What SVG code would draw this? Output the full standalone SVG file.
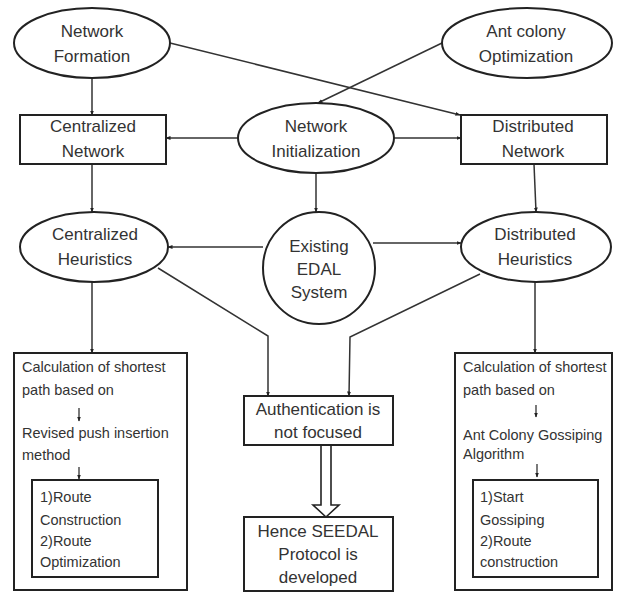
<svg xmlns="http://www.w3.org/2000/svg" width="617" height="592" viewBox="0 0 617 592">
<defs>
<style>
.shape{fill:#fff;stroke:#222;stroke-width:2}
.lbl{font-family:"Liberation Sans",Arial,sans-serif;font-size:17px;fill:#333;text-anchor:middle}
.sm{font-family:"Liberation Sans",Arial,sans-serif;font-size:14.5px;fill:#333}
.con{fill:none;stroke:#333;stroke-width:1.5;marker-end:url(#ah)}
.small{fill:none;stroke:#333;stroke-width:1.3;marker-end:url(#ah)}
</style>
<marker id="ah" viewBox="0 0 10 10" refX="9" refY="5" markerWidth="5" markerHeight="5" orient="auto" markerUnits="userSpaceOnUse">
<path d="M0,1 L10,5 L0,9 z" fill="#222"/>
</marker>
</defs>
<rect width="617" height="592" fill="#fff"/>
<g id="connectors">
<path class="con" d="M92,78 L92,115"/>
<path class="con" d="M170,43 L460,115"/>
<path class="con" d="M442,43 L318,103"/>
<path class="con" d="M238,138 L166,138"/>
<path class="con" d="M394,138 L461,138"/>
<path class="con" d="M316,173 L316,212"/>
<path class="con" d="M92,164 L92,212"/>
<path class="con" d="M534,164 L536,212"/>
<path class="con" d="M263,247 L168,247"/>
<path class="con" d="M373,243 L461,243"/>
<path class="con" d="M158,268 L268,336 L268,396"/>
<path class="con" d="M480,274 L350,337 L349,396"/>
<path class="con" d="M92,282 L92,353"/>
<path class="con" d="M535,282 L535,353"/>
<path d="M321,445 L321,505 L313,505 L326,517 L339,505 L331,505 L331,445" fill="#fff" stroke="#222" stroke-width="1.6"/>
</g>
<g id="network-formation">
<ellipse class="shape" cx="92" cy="43" rx="78" ry="35"/>
<text class="lbl" x="92" y="37">Network</text>
<text class="lbl" x="92" y="62">Formation</text>
</g>
<g id="ant-colony">
<ellipse class="shape" cx="527" cy="43" rx="85" ry="35"/>
<text class="lbl" x="526" y="37">Ant colony</text>
<text class="lbl" x="526" y="62">Optimization</text>
</g>
<g id="centralized-network">
<rect class="shape" x="20" y="115" width="146" height="49"/>
<text class="lbl" x="93" y="132">Centralized</text>
<text class="lbl" x="93" y="157">Network</text>
</g>
<g id="network-initialization">
<ellipse class="shape" cx="316" cy="138" rx="78" ry="35"/>
<text class="lbl" x="316" y="132">Network</text>
<text class="lbl" x="316" y="157">Initialization</text>
</g>
<g id="distributed-network">
<rect class="shape" x="461" y="115" width="146" height="49"/>
<text class="lbl" x="533" y="132">Distributed</text>
<text class="lbl" x="533" y="157">Network</text>
</g>
<g id="centralized-heuristics">
<ellipse class="shape" cx="94" cy="247" rx="74" ry="35"/>
<text class="lbl" x="95" y="240">Centralized</text>
<text class="lbl" x="95" y="265">Heuristics</text>
</g>
<g id="existing-edal">
<ellipse class="shape" cx="319" cy="268" rx="56" ry="56"/>
<text class="lbl" x="319" y="252">Existing</text>
<text class="lbl" x="319" y="275">EDAL</text>
<text class="lbl" x="319" y="298">System</text>
</g>
<g id="distributed-heuristics">
<ellipse class="shape" cx="536" cy="247" rx="75" ry="35"/>
<text class="lbl" x="535" y="240">Distributed</text>
<text class="lbl" x="535" y="265">Heuristics</text>
</g>
<g id="left-box">
<rect class="shape" x="14" y="353" width="173" height="237"/>
<text class="sm" x="22" y="372">Calculation of shortest</text>
<text class="sm" x="22" y="395">path based on</text>
<path class="small" d="M79,408 L79,421"/>
<text class="sm" x="22" y="438">Revised push insertion</text>
<text class="sm" x="22" y="460">method</text>
<path class="small" d="M79,467 L79,479"/>
</g>
<g id="left-inner">
<rect class="shape" x="32" y="480" width="126" height="97"/>
<text class="sm" x="40" y="502">1)Route</text>
<text class="sm" x="40" y="525">Construction</text>
<text class="sm" x="40" y="546">2)Route</text>
<text class="sm" x="40" y="567">Optimization</text>
</g>
<g id="authentication">
<rect class="shape" x="244" y="396" width="149" height="49"/>
<text class="lbl" x="318" y="415">Authentication is</text>
<text class="lbl" x="318" y="438">not focused</text>
</g>
<g id="hence-seedal">
<rect class="shape" x="244" y="517" width="149" height="74"/>
<text class="lbl" x="318" y="537">Hence SEEDAL</text>
<text class="lbl" x="318" y="560">Protocol is</text>
<text class="lbl" x="318" y="583">developed</text>
</g>
<g id="right-box">
<rect class="shape" x="455" y="353" width="157" height="237"/>
<text class="sm" x="463" y="372">Calculation of shortest</text>
<text class="sm" x="463" y="395">path based on</text>
<path class="small" d="M536,405 L536,417"/>
<text class="sm" x="463" y="440">Ant Colony Gossiping</text>
<text class="sm" x="463" y="459">Algorithm</text>
<path class="small" d="M537,464 L537,477"/>
</g>
<g id="right-inner">
<rect class="shape" x="473" y="480" width="125" height="97"/>
<text class="sm" x="480" y="502">1)Start</text>
<text class="sm" x="480" y="525">Gossiping</text>
<text class="sm" x="480" y="546">2)Route</text>
<text class="sm" x="480" y="567">construction</text>
</g>
</svg>
